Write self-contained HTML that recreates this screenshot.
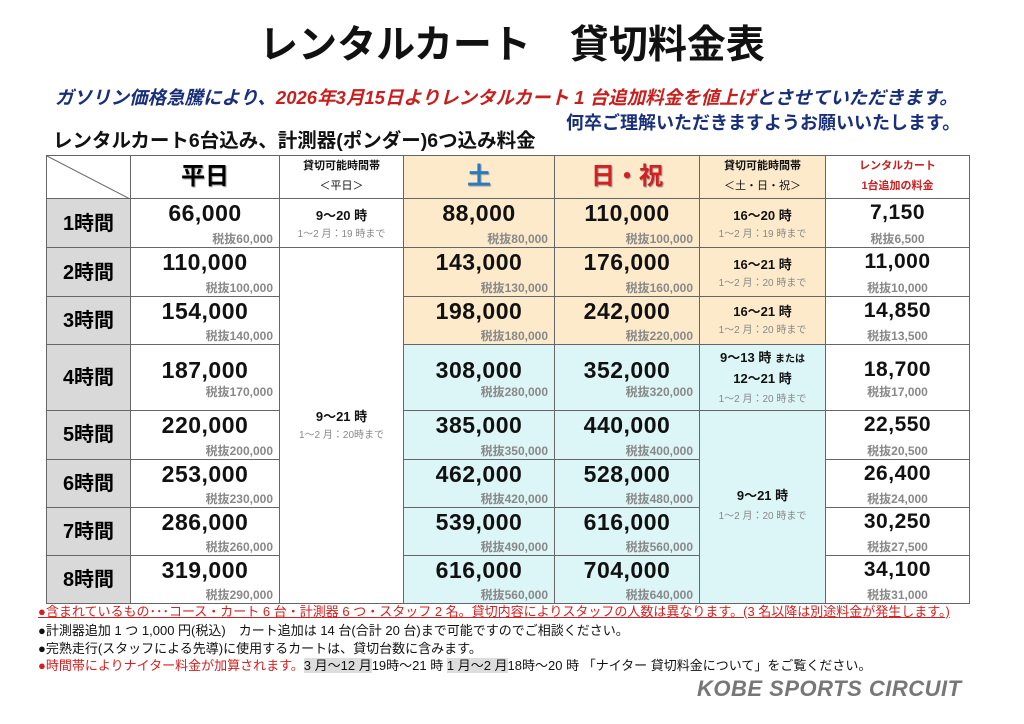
<!DOCTYPE html>
<html><head><meta charset="utf-8">
<style>
body{margin:0;width:1024px;height:724px;background:#fff;position:relative;overflow:hidden;font-family:"Liberation Sans","Noto Sans CJK JP",sans-serif;line-height:1.15}
.a{position:absolute;white-space:nowrap;}
.c{position:absolute;box-sizing:border-box;border:1px solid #666;margin:-1px 0 0 -1px;}
.p{position:absolute;left:0;right:0;top:3px;text-align:center;font-size:23px;font-weight:bold;color:#111;letter-spacing:0.5px;line-height:1}
.s{position:absolute;right:6px;bottom:2px;font-size:12px;color:#888;font-weight:bold;line-height:1}
.t{position:absolute;left:0;right:0;text-align:center;font-size:13px;font-weight:bold;color:#111;line-height:1}
.u{position:absolute;left:0;right:0;text-align:center;font-size:10px;color:#888;line-height:1}
.h{position:absolute;left:0;right:0;text-align:center;font-size:20px;font-weight:bold;line-height:1}
.be{background:#fdeacb}.cy{background:#dcf5f6}.gr{background:#d9d9d9}
</style></head><body>
<div class="a" style="left:0;width:1024px;top:26px;text-align:center;font-size:39px;font-weight:bold;color:#111;line-height:1">レンタルカート　貸切料金表</div>
<div class="a" style="left:55px;top:89px;font-size:18.5px;font-weight:bold;font-style:italic;color:#1a2f7a;line-height:1">ガソリン価格急騰により、<span style="color:#c81e1e">2026年3月15日よりレンタルカート 1 台追加料金を値上げ</span>とさせていただきます。</div>
<div class="a" style="left:566px;top:114px;font-size:18px;font-weight:bold;color:#1a2f7a;line-height:1">何卒ご理解いただきますようお願いいたします。</div>
<div class="a" style="left:53px;top:132px;font-size:19.5px;font-weight:bold;color:#111;line-height:1">レンタルカート6台込み、計測器(ポンダー)6つ込み料金</div>

<!-- header -->
<div class="c" style="left:47px;top:156px;width:85px;height:44px;overflow:hidden"><svg width="85" height="44" style="position:absolute;left:0;top:0"><line x1="0" y1="0" x2="85" y2="44" stroke="#666"/></svg></div>
<div class="c" style="left:131px;top:156px;width:150px;height:44px"><div class="h" style="top:9px;font-size:24px;text-shadow:1px 1px 1px #999">平日</div></div>
<div class="c" style="left:280px;top:156px;width:125px;height:44px"><div class="t" style="top:5px;font-size:11px">貸切可能時間帯</div><div class="t" style="top:25px;font-size:11px;font-weight:normal">＜平日＞</div></div>
<div class="c be" style="left:404px;top:156px;width:152px;height:44px"><div class="h" style="top:9px;font-size:24px;color:#2a7ac0;text-shadow:1px 1px 1px #999">土</div></div>
<div class="c be" style="left:555px;top:156px;width:146px;height:44px"><div class="h" style="top:9px;font-size:24px;color:#d42020;text-shadow:1px 1px 1px #999">日・祝</div></div>
<div class="c be" style="left:700px;top:156px;width:127px;height:44px"><div class="t" style="top:5px;font-size:11px">貸切可能時間帯</div><div class="t" style="top:25px;font-size:11px;font-weight:normal">＜土・日・祝＞</div></div>
<div class="c" style="left:826px;top:156px;width:145px;height:44px"><div class="t" style="top:5px;font-size:11px;color:#c81e1e">レンタルカート</div><div class="t" style="top:25px;font-size:11px;color:#c81e1e">1台追加の料金</div></div>

<!-- label column -->
<div class="c gr" style="left:47px;top:199px;width:85px;height:50px"><div class="h" style="top:15px">1時間</div></div>
<div class="c gr" style="left:47px;top:248px;width:85px;height:50px"><div class="h" style="top:15px">2時間</div></div>
<div class="c gr" style="left:47px;top:297px;width:85px;height:49px"><div class="h" style="top:14px">3時間</div></div>
<div class="c gr" style="left:47px;top:345px;width:85px;height:67px"><div class="h" style="top:23px">4時間</div></div>
<div class="c gr" style="left:47px;top:411px;width:85px;height:50px"><div class="h" style="top:14px">5時間</div></div>
<div class="c gr" style="left:47px;top:460px;width:85px;height:49px"><div class="h" style="top:14px">6時間</div></div>
<div class="c gr" style="left:47px;top:508px;width:85px;height:49px"><div class="h" style="top:14px">7時間</div></div>
<div class="c gr" style="left:47px;top:556px;width:85px;height:49px"><div class="h" style="top:14px">8時間</div></div>

<!-- weekday -->
<div class="c" style="left:131px;top:199px;width:150px;height:50px"><div class="p">66,000</div><div class="s">税抜60,000</div></div>
<div class="c" style="left:131px;top:248px;width:150px;height:50px"><div class="p">110,000</div><div class="s">税抜100,000</div></div>
<div class="c" style="left:131px;top:297px;width:150px;height:49px"><div class="p">154,000</div><div class="s">税抜140,000</div></div>
<div class="c" style="left:131px;top:345px;width:150px;height:67px"><div class="p" style="top:14px">187,000</div><div class="s" style="bottom:12px">税抜170,000</div></div>
<div class="c" style="left:131px;top:411px;width:150px;height:50px"><div class="p">220,000</div><div class="s">税抜200,000</div></div>
<div class="c" style="left:131px;top:460px;width:150px;height:49px"><div class="p">253,000</div><div class="s">税抜230,000</div></div>
<div class="c" style="left:131px;top:508px;width:150px;height:49px"><div class="p">286,000</div><div class="s">税抜260,000</div></div>
<div class="c" style="left:131px;top:556px;width:150px;height:49px"><div class="p">319,000</div><div class="s">税抜290,000</div></div>

<!-- weekday time -->
<div class="c" style="left:280px;top:199px;width:125px;height:50px"><div class="t" style="top:10px">9～20 時</div><div class="u" style="top:31px">1～2 月：19 時まで</div></div>
<div class="c" style="left:280px;top:248px;width:125px;height:357px"><div class="t" style="top:162px">9～21 時</div><div class="u" style="top:183px">1～2 月：20時まで</div></div>

<!-- sat / sun -->
<div class="c be" style="left:404px;top:199px;width:152px;height:50px"><div class="p">88,000</div><div class="s">税抜80,000</div></div>
<div class="c be" style="left:555px;top:199px;width:146px;height:50px"><div class="p">110,000</div><div class="s">税抜100,000</div></div>
<div class="c be" style="left:404px;top:248px;width:152px;height:50px"><div class="p">143,000</div><div class="s">税抜130,000</div></div>
<div class="c be" style="left:555px;top:248px;width:146px;height:50px"><div class="p">176,000</div><div class="s">税抜160,000</div></div>
<div class="c be" style="left:404px;top:297px;width:152px;height:49px"><div class="p">198,000</div><div class="s">税抜180,000</div></div>
<div class="c be" style="left:555px;top:297px;width:146px;height:49px"><div class="p">242,000</div><div class="s">税抜220,000</div></div>
<div class="c cy" style="left:404px;top:345px;width:152px;height:67px"><div class="p" style="top:14px">308,000</div><div class="s" style="bottom:12px">税抜280,000</div></div>
<div class="c cy" style="left:555px;top:345px;width:146px;height:67px"><div class="p" style="top:14px">352,000</div><div class="s" style="bottom:12px">税抜320,000</div></div>
<div class="c cy" style="left:404px;top:411px;width:152px;height:50px"><div class="p">385,000</div><div class="s">税抜350,000</div></div>
<div class="c cy" style="left:555px;top:411px;width:146px;height:50px"><div class="p">440,000</div><div class="s">税抜400,000</div></div>
<div class="c cy" style="left:404px;top:460px;width:152px;height:49px"><div class="p">462,000</div><div class="s">税抜420,000</div></div>
<div class="c cy" style="left:555px;top:460px;width:146px;height:49px"><div class="p">528,000</div><div class="s">税抜480,000</div></div>
<div class="c cy" style="left:404px;top:508px;width:152px;height:49px"><div class="p">539,000</div><div class="s">税抜490,000</div></div>
<div class="c cy" style="left:555px;top:508px;width:146px;height:49px"><div class="p">616,000</div><div class="s">税抜560,000</div></div>
<div class="c cy" style="left:404px;top:556px;width:152px;height:49px"><div class="p">616,000</div><div class="s">税抜560,000</div></div>
<div class="c cy" style="left:555px;top:556px;width:146px;height:49px"><div class="p">704,000</div><div class="s">税抜640,000</div></div>

<!-- weekend time -->
<div class="c be" style="left:700px;top:199px;width:127px;height:50px"><div class="t" style="top:10px">16～20 時</div><div class="u" style="top:31px">1～2 月：19 時まで</div></div>
<div class="c be" style="left:700px;top:248px;width:127px;height:50px"><div class="t" style="top:10px">16～21 時</div><div class="u" style="top:31px">1～2 月：20 時まで</div></div>
<div class="c be" style="left:700px;top:297px;width:127px;height:49px"><div class="t" style="top:8px">16～21 時</div><div class="u" style="top:29px">1～2 月：20 時まで</div></div>
<div class="c cy" style="left:700px;top:345px;width:127px;height:67px"><div class="t" style="top:6px">9～13 時 <span style="font-size:10px">または</span></div><div class="t" style="top:27px">12～21 時</div><div class="u" style="top:50px">1～2 月：20 時まで</div></div>
<div class="c cy" style="left:700px;top:411px;width:127px;height:194px"><div class="t" style="top:78px">9～21 時</div><div class="u" style="top:101px">1～2 月：20 時まで</div></div>

<!-- extra kart -->
<div class="c" style="left:826px;top:199px;width:145px;height:50px"><div class="p" style="font-size:21px">7,150</div><div class="s" style="right:0;left:0;text-align:center">税抜6,500</div></div>
<div class="c" style="left:826px;top:248px;width:145px;height:50px"><div class="p" style="font-size:21px">11,000</div><div class="s" style="right:0;left:0;text-align:center">税抜10,000</div></div>
<div class="c" style="left:826px;top:297px;width:145px;height:49px"><div class="p" style="font-size:21px">14,850</div><div class="s" style="right:0;left:0;text-align:center">税抜13,500</div></div>
<div class="c" style="left:826px;top:345px;width:145px;height:67px"><div class="p" style="font-size:21px;top:14px">18,700</div><div class="s" style="right:0;left:0;text-align:center;bottom:12px">税抜17,000</div></div>
<div class="c" style="left:826px;top:411px;width:145px;height:50px"><div class="p" style="font-size:21px">22,550</div><div class="s" style="right:0;left:0;text-align:center">税抜20,500</div></div>
<div class="c" style="left:826px;top:460px;width:145px;height:49px"><div class="p" style="font-size:21px">26,400</div><div class="s" style="right:0;left:0;text-align:center">税抜24,000</div></div>
<div class="c" style="left:826px;top:508px;width:145px;height:49px"><div class="p" style="font-size:21px">30,250</div><div class="s" style="right:0;left:0;text-align:center">税抜27,500</div></div>
<div class="c" style="left:826px;top:556px;width:145px;height:49px"><div class="p" style="font-size:21px">34,100</div><div class="s" style="right:0;left:0;text-align:center">税抜31,000</div></div>

<!-- notes -->
<div class="a" style="left:38px;top:605px;font-size:13px;color:#d42020;text-decoration:underline;line-height:1">●含まれているもの･･･コース・カート 6 台・計測器 6 つ・スタッフ 2 名。貸切内容によりスタッフの人数は異なります。(3 名以降は別途料金が発生します。)</div>
<div class="a" style="left:38px;top:624px;font-size:13px;color:#111;line-height:1">●計測器追加 1 つ 1,000 円(税込)　カート追加は 14 台(合計 20 台)まで可能ですのでご相談ください。</div>
<div class="a" style="left:38px;top:642px;font-size:13px;color:#111;line-height:1">●完熟走行(スタッフによる先導)に使用するカートは、貸切台数に含みます。</div>
<div class="a" style="left:38px;top:659px;font-size:13px;color:#111;line-height:1"><span style="color:#d42020">●時間帯によりナイター料金が加算されます。</span><span style="background:#ddd">3 月～12 月</span>19時～21 時 <span style="background:#ddd">1 月～2 月</span>18時～20 時 「ナイター 貸切料金について」をご覧ください。</div>
<div class="a" style="left:697px;top:678px;font-size:22px;font-weight:bold;font-style:italic;color:#777;line-height:1;letter-spacing:0.5px">KOBE SPORTS CIRCUIT</div>
</body></html>
